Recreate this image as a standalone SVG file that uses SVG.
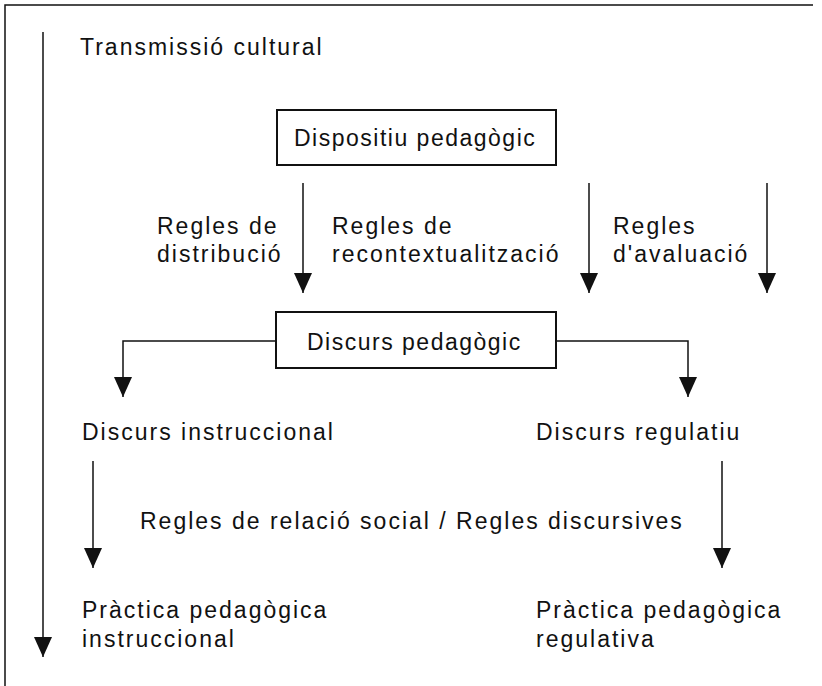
<svg xmlns="http://www.w3.org/2000/svg" width="822" height="686" viewBox="0 0 822 686">
<style>
text{font-family:"Liberation Sans",Arial,sans-serif;font-size:23px;letter-spacing:2px;fill:#111}
.bt{letter-spacing:1.5px}
.ln{stroke:#111;stroke-width:1.5;fill:none}
.box{stroke:#111;stroke-width:2;fill:#fff}
</style>
<defs>
<marker id="ah" viewBox="0 0 20 18" refX="20" refY="9" markerWidth="20" markerHeight="18" markerUnits="userSpaceOnUse" orient="auto">
<path d="M0,0 L20,9 L0,18 Z" fill="#111"/>
</marker>
</defs>
<rect width="822" height="686" fill="#fff"/>
<g id="frame">
<path class="ln" d="M5,686 V5 H813"/>
</g>
<g id="connectors">
<path class="ln" d="M43,32 V657" marker-end="url(#ah)"/>
<path class="ln" d="M303,183 V293" marker-end="url(#ah)"/>
<path class="ln" d="M589,183 V293" marker-end="url(#ah)"/>
<path class="ln" d="M767,183 V293" marker-end="url(#ah)"/>
<path class="ln" d="M276,341 H123 V397" marker-end="url(#ah)"/>
<path class="ln" d="M556,341 H688 V397" marker-end="url(#ah)"/>
<path class="ln" d="M93,461 V568" marker-end="url(#ah)"/>
<path class="ln" d="M722,461 V568" marker-end="url(#ah)"/>
</g>
<g id="transmissio">
<text x="80" y="55">Transmissió cultural</text>
</g>
<g id="dispositiu">
<rect class="box" x="277" y="110" width="279" height="55"/>
<text class="bt" x="294" y="146">Dispositiu pedagògic</text>
</g>
<g id="regles-distribucio">
<text x="157" y="234">Regles de</text>
<text x="157" y="262">distribució</text>
</g>
<g id="regles-recontextualitzacio">
<text x="332" y="234">Regles de</text>
<text x="332" y="262">recontextualització</text>
</g>
<g id="regles-avaluacio">
<text x="613" y="234">Regles</text>
<text x="613" y="262">d'avaluació</text>
</g>
<g id="discurs-pedagogic">
<rect class="box" x="276" y="312" width="280" height="56"/>
<text class="bt" x="307" y="350">Discurs pedagògic</text>
</g>
<g id="discurs-instruccional">
<text x="82" y="440">Discurs instruccional</text>
</g>
<g id="discurs-regulatiu">
<text x="536" y="440">Discurs regulatiu</text>
</g>
<g id="regles-relacio">
<text x="140" y="529">Regles de relació social / Regles discursives</text>
</g>
<g id="practica-instruccional">
<text x="82" y="618">Pràctica pedagògica</text>
<text x="82" y="647">instruccional</text>
</g>
<g id="practica-regulativa">
<text x="536" y="618">Pràctica pedagògica</text>
<text x="536" y="647">regulativa</text>
</g>
</svg>
